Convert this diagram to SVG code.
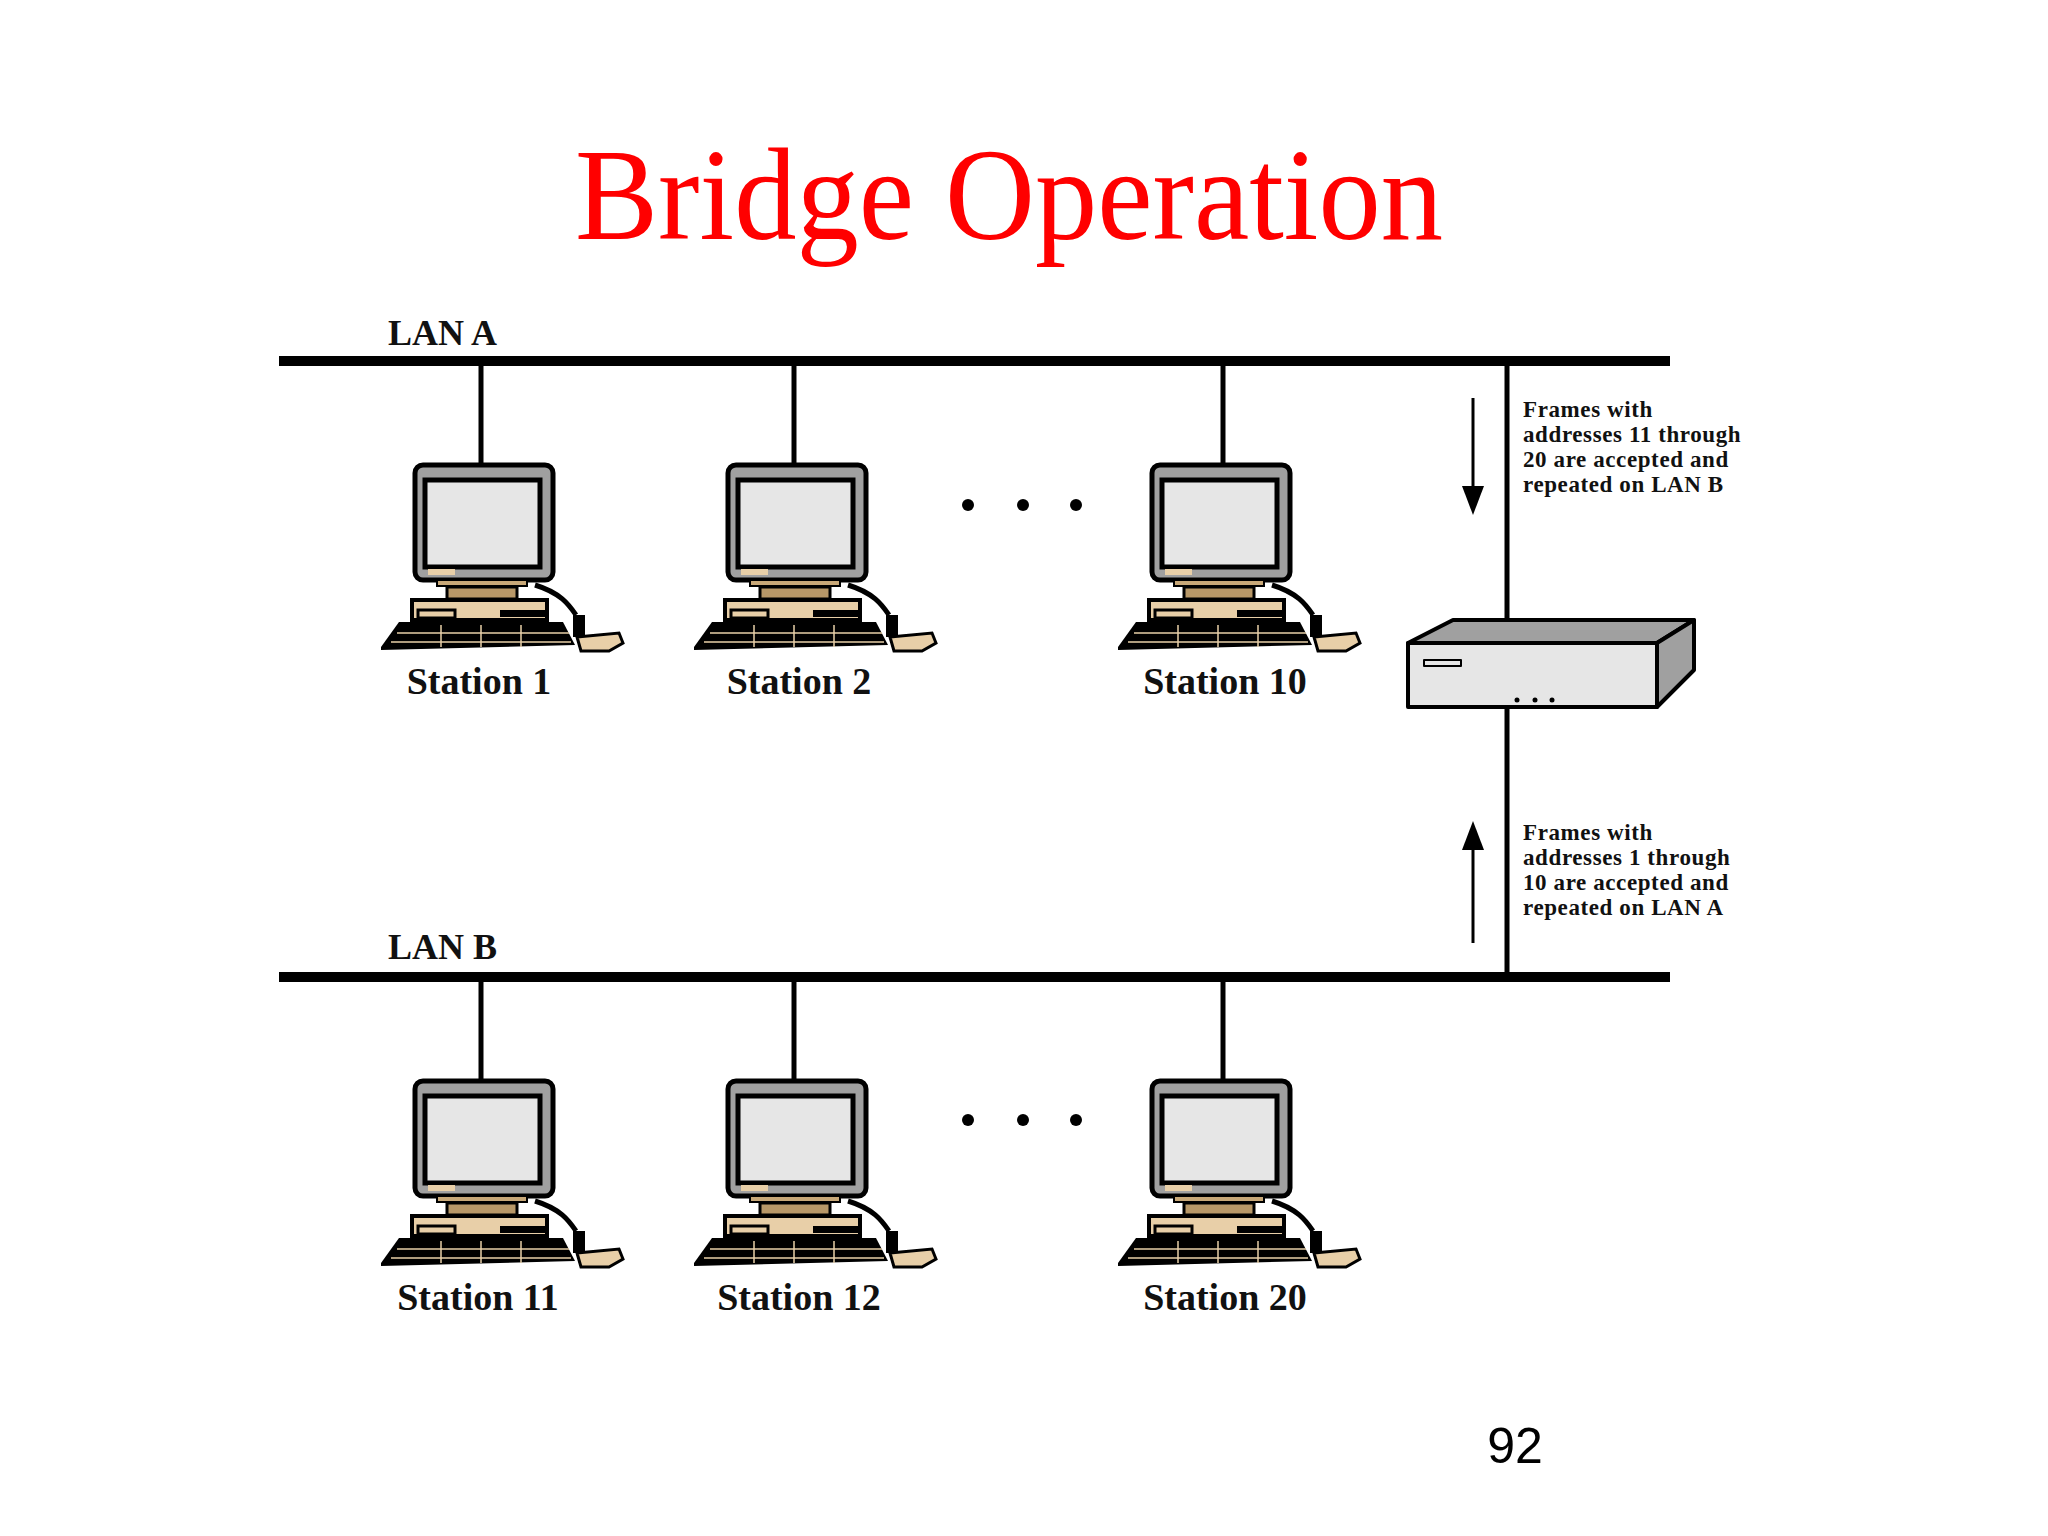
<svg xmlns="http://www.w3.org/2000/svg" width="2048" height="1536" viewBox="0 0 2048 1536">
<style>
.lbl{font-family:"Liberation Serif",serif;font-weight:bold;fill:#111}
.st{font-size:38px;text-anchor:middle}
.note{font-size:23px;letter-spacing:0.6px}
.bus{stroke:#000;stroke-width:10}
.drop{stroke:#000;stroke-width:5}
</style>
<defs>
<g id="pc">
<rect x="-66" y="0" width="138" height="115" rx="8" fill="#a0a0a0" stroke="#000" stroke-width="5"/>
<rect x="-56" y="15" width="115" height="87" fill="#e6e6e6" stroke="#000" stroke-width="5"/>
<rect x="-53" y="104" width="27" height="6" fill="#e8cfa8"/>
<rect x="-44" y="115" width="90" height="6" fill="#c8a878" stroke="#000" stroke-width="2"/>
<rect x="-34" y="122" width="70" height="12" fill="#b89868" stroke="#000" stroke-width="3"/>
<rect x="-69" y="135" width="135" height="20" fill="#e8cfa8" stroke="#000" stroke-width="4"/>
<rect x="-63" y="145" width="37" height="8" fill="#e8cfa8" stroke="#000" stroke-width="3"/>
<rect x="19" y="145" width="45" height="7" fill="#000"/>
<polygon points="-82,157 82,157 94,180 -100,185 -100,182" fill="#000"/>
<path d="M-84,168 H88 M-90,177 H90 M-40,160 V182 M0,160 V182 M40,160 V182" stroke="#e8cfa8" stroke-width="1.5" fill="none"/>
<path d="M54,120 C80,128 88,140 95,150" stroke="#000" stroke-width="5" fill="none"/>
<rect x="92" y="150" width="12" height="22" fill="#000"/>
<path d="M96,172 L138,168 L142,178 L128,186 L100,186 Z" fill="#e8cfa8" stroke="#000" stroke-width="3"/>
</g>
</defs>
<rect width="2048" height="1536" fill="#fff"/>
<text x="1009" y="239" font-family="Liberation Serif,serif" font-size="132" fill="#f00" text-anchor="middle" textLength="868" lengthAdjust="spacingAndGlyphs">Bridge Operation</text>
<g id="connectors">
<line class="bus" x1="279" y1="361" x2="1670" y2="361"/>
<line class="bus" x1="279" y1="977" x2="1670" y2="977"/>
<line class="drop" x1="481" y1="361" x2="481" y2="465"/>
<line class="drop" x1="794" y1="361" x2="794" y2="465"/>
<line class="drop" x1="1223" y1="361" x2="1223" y2="465"/>
<line class="drop" x1="481" y1="977" x2="481" y2="1081"/>
<line class="drop" x1="794" y1="977" x2="794" y2="1081"/>
<line class="drop" x1="1223" y1="977" x2="1223" y2="1081"/>
<line class="drop" x1="1507" y1="361" x2="1507" y2="977"/>
<line x1="1473" y1="398" x2="1473" y2="490" stroke="#000" stroke-width="3"/>
<polygon points="1462,486 1484,486 1473,515" fill="#000"/>
<line x1="1473" y1="943" x2="1473" y2="848" stroke="#000" stroke-width="3"/>
<polygon points="1462,850 1484,850 1473,821" fill="#000"/>
</g>
<text class="lbl" x="388" y="345" font-size="36">LAN A</text>
<text class="lbl" x="388" y="959" font-size="36">LAN B</text>
<g id="station1"><use href="#pc" x="481" y="465"/><text class="lbl st" x="479" y="694">Station 1</text></g>
<g id="station2"><use href="#pc" x="794" y="465"/><text class="lbl st" x="799" y="694">Station 2</text></g>
<g id="station10"><use href="#pc" x="1218" y="465"/><text class="lbl st" x="1225" y="694">Station 10</text></g>
<g id="station11"><use href="#pc" x="481" y="1081"/><text class="lbl st" x="478" y="1310">Station 11</text></g>
<g id="station12"><use href="#pc" x="794" y="1081"/><text class="lbl st" x="799" y="1310">Station 12</text></g>
<g id="station20"><use href="#pc" x="1218" y="1081"/><text class="lbl st" x="1225" y="1310">Station 20</text></g>
<g id="dots" fill="#000">
<circle cx="968" cy="505" r="6"/><circle cx="1023" cy="505" r="6"/><circle cx="1076" cy="505" r="6"/>
<circle cx="968" cy="1120" r="6"/><circle cx="1023" cy="1120" r="6"/><circle cx="1076" cy="1120" r="6"/>
</g>
<g id="bridge" stroke="#000" stroke-width="4" stroke-linejoin="round">
<polygon points="1408,643 1453,620 1694,620 1657,643" fill="#a0a0a0"/>
<polygon points="1657,643 1694,620 1694,670 1657,707" fill="#a0a0a0"/>
<rect x="1408" y="643" width="249" height="64" fill="#e6e6e6"/>
<rect x="1424" y="660" width="37" height="6" fill="#e6e6e6" stroke-width="2"/>
<circle cx="1517" cy="700" r="2.5" fill="#000" stroke="none"/>
<circle cx="1535" cy="700" r="2.5" fill="#000" stroke="none"/>
<circle cx="1552" cy="700" r="2.5" fill="#000" stroke="none"/>
</g>
<text class="lbl note" x="1523" y="417">Frames with<tspan x="1523" dy="25">addresses 11 through</tspan><tspan x="1523" dy="25">20 are accepted and</tspan><tspan x="1523" dy="25">repeated on LAN B</tspan></text>
<text class="lbl note" x="1523" y="840">Frames with<tspan x="1523" dy="25">addresses 1 through</tspan><tspan x="1523" dy="25">10 are accepted and</tspan><tspan x="1523" dy="25">repeated on LAN A</tspan></text>
<text x="1515" y="1463" font-family="Liberation Sans,Arial,sans-serif" font-size="50" text-anchor="middle" fill="#000">92</text>
</svg>
